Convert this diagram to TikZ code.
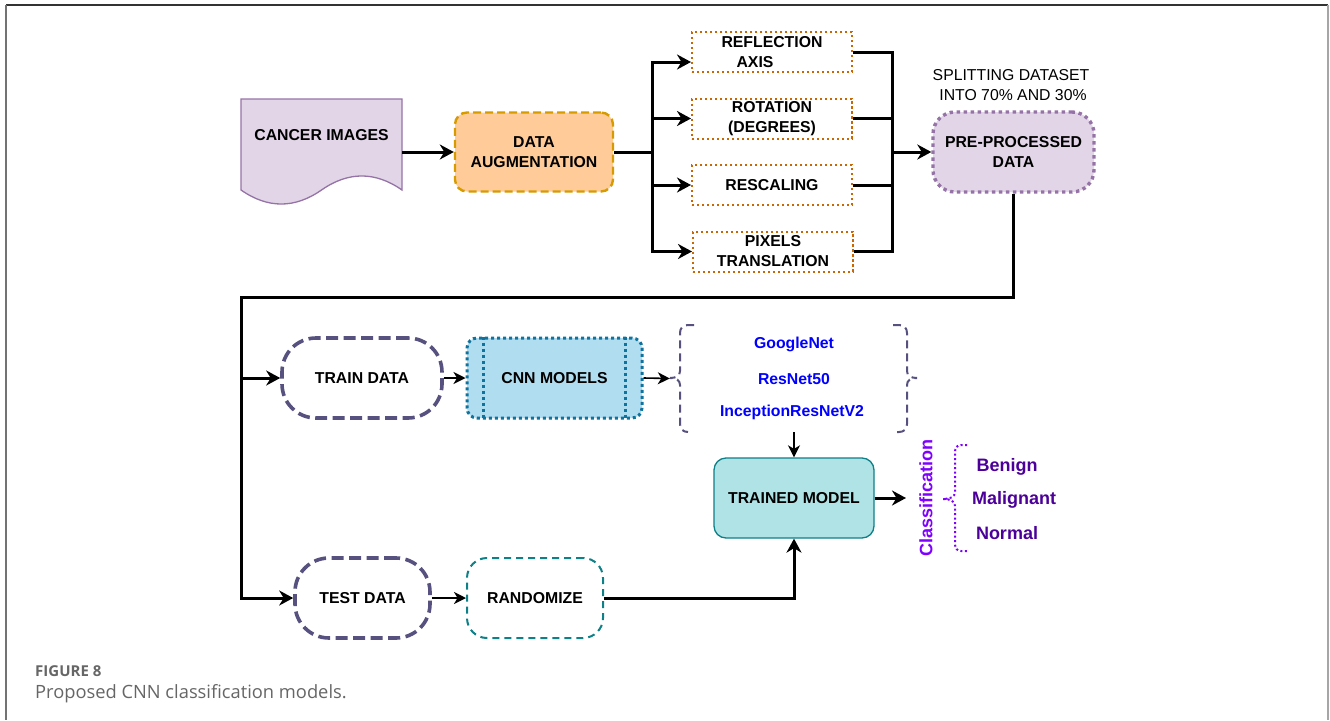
\documentclass[tikz,border=0pt]{standalone}
\usepackage{fontspec}
\setmainfont{Liberation Sans}
\newfontfamily\capfont{Open Sans}
\usetikzlibrary{arrows.meta}

\definecolor{docfill}{HTML}{E1D5E7}
\definecolor{docdraw}{HTML}{9673A6}
\definecolor{augfill}{HTML}{FFCC99}
\definecolor{augdraw}{HTML}{D79B00}
\definecolor{refdraw}{HTML}{CC6600}
\definecolor{setdraw}{HTML}{56517E}
\definecolor{cnnfill}{HTML}{B1DDF0}
\definecolor{cnndraw}{HTML}{10739E}
\definecolor{tealdraw}{HTML}{0E8088}
\definecolor{tmfill}{HTML}{B0E3E6}
\definecolor{netblue}{HTML}{0000FF}
\definecolor{clsviolet}{HTML}{7F00FF}
\definecolor{outpurple}{HTML}{4C0099}
\definecolor{capgray}{HTML}{666666}

\tikzset{
  lbl/.style={font=\fontsize{15.8}{20}\selectfont\bfseries, align=center, text=black},
  docnode/.style={minimum width=161pt, minimum height=106pt, inner sep=0pt},
  augbox/.style={lbl, draw=augdraw, fill=augfill, line width=2.4pt, dash pattern=on 8pt off 4pt,
    rounded corners=12pt, minimum width=158pt, minimum height=79pt, inner sep=0pt},
  opbox/.style={lbl, draw=refdraw, fill=white, line width=2pt, dash pattern=on 2.4pt off 2.6pt,
    minimum width=160pt, minimum height=40pt, inner sep=0pt},
  ppbox/.style={lbl, draw=docdraw, fill=docfill, line width=3.4pt, dash pattern=on 3.4pt off 3.6pt,
    rounded corners=22pt, minimum width=161pt, minimum height=80pt, inner sep=0pt},
  setbox/.style={lbl, draw=setdraw, line width=3.6pt, dash pattern=on 12pt off 5.5pt,
    rounded corners=34pt, minimum height=80pt, inner sep=0pt},
  cnnbox/.style={lbl, draw=cnndraw, fill=cnnfill, line width=3pt, dash pattern=on 3pt off 3pt,
    rounded corners=10pt, minimum width=175pt, minimum height=80pt, inner sep=0pt},
  randbox/.style={lbl, draw=tealdraw, line width=2pt, dash pattern=on 7pt off 5pt,
    rounded corners=20pt, minimum width=136pt, minimum height=80pt, inner sep=0pt},
  tmbox/.style={lbl, draw=tealdraw, fill=tmfill, line width=1.3pt,
    rounded corners=12pt, minimum width=160pt, minimum height=80pt, inner sep=0pt},
  netlbl/.style={font=\fontsize{15.8}{20}\selectfont\bfseries, text=netblue, inner sep=0pt},
  outlbl/.style={font=\fontsize{18}{22}\selectfont\bfseries, text=outpurple, inner sep=0pt},
  brk/.style={draw=setdraw, line width=2pt, dash pattern=on 8pt off 5pt},
  conn/.style={line width=3pt, draw=black},
  arr/.style={conn, -{Stealth[length=14pt, width=15pt, inset=4.5pt]}},
  tarr/.style={line width=1.6pt, draw=black, -{Stealth[length=12pt, width=12pt, inset=3.5pt]}},
}

\begin{document}
\begin{tikzpicture}[x=1pt, y=-1pt]
\useasboundingbox (0,0) rectangle (1330,720);
\fill[white] (0,0) rectangle (1330,720);

% outer frame of the figure panel
\draw[line width=1.6pt, color=black!80] (6,5) -- (1328,5);
\draw[line width=1.4pt, color=black!55] (6,5) -- (6,720);
\draw[line width=1.2pt, color=black!35] (1328,5) -- (1328,720);

% document shape for the image input
\node[docnode] (ci) at (321.5,152) {};
\path[draw=docdraw, fill=docfill, line width=1.3pt]
  (241,99) -- (402,99) -- (402,190)
  .. controls (375.2,171.3) and (348.3,171.3) .. (321.5,190)
  .. controls (294.7,208.7) and (267.8,208.7) .. (241,190) -- cycle;
\node[lbl] (citext) at (321.5,135) {CANCER IMAGES};

% augmentation stage
\node[augbox] (aug) at (534,152) {DATA\\AUGMENTATION};
\node[opbox] (refl) at (772,52)    {REFLECTION\\AXIS\rule{34pt}{0pt}};
\node[opbox] (rot)  at (772,118.5) {ROTATION\\(DEGREES)};
\node[opbox] (resc) at (772,185)   {RESCALING};
\node[opbox] (pix)  at (773,251.5) {PIXELS\\TRANSLATION};

\node[ppbox] (pp) at (1013.5,152) {PRE-PROCESSED\\DATA};
\node[lbl, font=\fontsize{15.8}{20}\selectfont] (split) at (1011,85)
  {SPLITTING DATASET\\\rule{4pt}{0pt}INTO 70\% AND 30\%};

\coordinate (fan) at (652,152);
\coordinate (join) at (892,152);

\draw[arr] (ci.east |- aug.west) -- (aug.west);
\draw[conn] (aug.east) -- (fan);
\draw[arr] (fan) |- ([yshift=-10pt]refl.west);
\draw[arr] (fan) |- (rot.west);
\draw[arr] (fan) |- (resc.west);
\draw[arr] (fan) |- (pix.west);
\draw[conn] (refl.east) -| (join);
\draw[conn] (rot.east) -| (join);
\draw[conn] (resc.east) -| (join);
\draw[conn] (pix.east) -| (join);
\draw[arr] (join) -- (pp.west);

% training and test branches
\node[setbox, minimum width=160pt] (train) at (362,378) {TRAIN DATA};
\node[cnnbox] (cnn) at (554.5,378) {CNN MODELS};
\draw[draw=cnndraw, line width=3pt, dash pattern=on 3pt off 3pt]
  ([xshift=18pt]cnn.north west) -- ([xshift=18pt]cnn.south west)
  ([xshift=-18pt]cnn.north east) -- ([xshift=-18pt]cnn.south east);

\node[setbox, minimum width=135pt] (test) at (362.5,598) {TEST DATA};
\node[randbox] (rand) at (535,598) {RANDOMIZE};
\node[tmbox] (tm) at (794,498) {TRAINED MODEL};

\coordinate (down) at (1013.5,297);
\coordinate (corner) at (241,297);
\draw[arr] (pp.south) -- (down) -- (corner) |- (test.west);
\draw[arr] (corner) |- (train.west);
\draw[tarr] (train.east) -- (cnn.west);
\draw[tarr] (test.east) -- (rand.west);
\draw[arr] (rand.east) -| (tm.south);

% list of pretrained networks inside brackets
\node[minimum width=247pt, minimum height=107pt, inner sep=0pt] (models) at (793.5,378.5) {};
\path[brk]
  (694,325) -- (688,325) .. controls (683,325) and (680,328) .. (680,333) -- (680,371)
  .. controls (680,376) and (676,378) .. (670,378)
  .. controls (676,378) and (680,380) .. (680,385) -- (680,424)
  .. controls (680,429) and (683,432) .. (688,432);
\path[brk]
  (893,325) -- (899,325) .. controls (904,325) and (907,328) .. (907,333) -- (907,371)
  .. controls (907,376) and (911,378) .. (917,378)
  .. controls (911,378) and (907,380) .. (907,385) -- (907,424)
  .. controls (907,429) and (904,432) .. (899,432) -- (893,432);
\node[netlbl] (gnet) at (794,344) {GoogleNet};
\node[netlbl] (rnet) at (794,379) {ResNet50};
\node[netlbl] (inet) at (792,412) {InceptionResNetV2};

\draw[tarr] (cnn.east) -- (models.west);
\draw[tarr] (models.south -| tm.north) -- (tm.north);

% classification outputs
\node[font=\fontsize{18}{22}\selectfont\bfseries, text=clsviolet, rotate=90,
  anchor=north, inner xsep=0pt, inner ysep=13pt] (cls) at (906,498) {Classification};
\draw[arr] (tm.east) -- (cls.north);
\path[draw=clsviolet, line width=2pt, dash pattern=on 2pt off 2.5pt]
  (967,445) -- (961,445) .. controls (957,445) and (955,448) .. (955,452) -- (955,492)
  .. controls (955,497) and (950,499) .. (943,499)
  .. controls (950,499) and (955,501) .. (955,506) -- (955,544)
  .. controls (955,548) and (957,551) .. (961,551) -- (967,551);
\node[outlbl] (benign) at (1007,467) {Benign};
\node[outlbl] (malig) at (1014,500) {Malignant};
\node[outlbl] (normal) at (1007,533) {Normal};

% caption
\node[anchor=base west, inner sep=0pt, font=\capfont\bfseries\fontsize{15}{18}\selectfont, text=capgray]
  (figno) at (35,676) {FIGURE 8};
\node[anchor=base west, inner sep=0pt, font=\capfont\fontsize{18.3}{22}\selectfont, text=capgray]
  (caption) at (35,698) {Proposed CNN classification models.};
\end{tikzpicture}
\end{document}
